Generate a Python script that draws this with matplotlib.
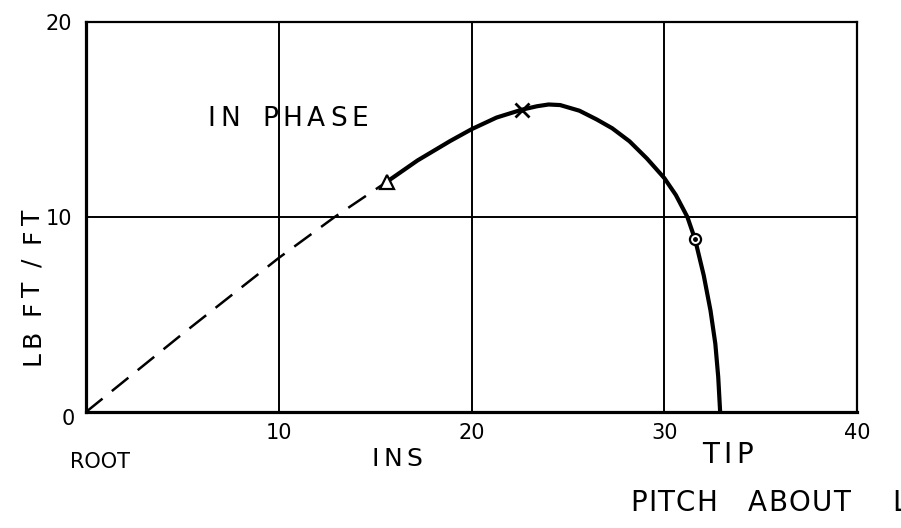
import matplotlib
matplotlib.use("Agg")
import matplotlib.pyplot as plt
from matplotlib.font_manager import FontProperties, findfont, get_font

# Pitching moment per unit span along the blade
dash_x = [0.0, 5.0, 10.0, 12.9, 15.6]
dash_y = [0.0, 4.0, 7.9, 10.0, 11.8]

curve_x = [15.6, 17.2, 18.9, 20.0, 21.3, 22.6, 23.4, 24.0, 24.6, 25.6, 26.5,
           27.3, 28.2, 29.1, 30.0, 30.6, 31.2, 31.6, 32.05, 32.4, 32.65,
           32.8, 32.9]
curve_y = [11.8, 12.9, 13.9, 14.5, 15.1, 15.5, 15.68, 15.77, 15.74, 15.45,
           15.0, 14.55, 13.88, 13.0, 12.0, 11.13, 10.0, 8.85, 7.0, 5.2, 3.5,
           1.8, 0.0]

tri_pt = (15.6, 11.8)
cross_pt = (22.6, 15.5)
circ_pt = (31.6, 8.85)

x_ticks = [10, 20, 30, 40]
y_ticks = [10, 20]

W, H, DPI = 901, 528, 100
fig = plt.figure(figsize=(W / DPI, H / DPI), dpi=DPI)
ax = fig.add_axes([86 / W, 1 - 412 / H, (857 - 86) / W, (412 - 22) / H])

ax.set_xlim(0, 40)
ax.set_ylim(0, 20)

# grid
for gx in [10, 20, 30]:
    ax.axvline(gx, color="black", lw=1.4, zorder=1)
ax.axhline(10, color="black", lw=1.4, zorder=1)

# frame
for side in ["left", "bottom"]:
    ax.spines[side].set_linewidth(2.3)
for side in ["top", "right"]:
    ax.spines[side].set_linewidth(1.6)

ax.plot(dash_x, dash_y, color="black", lw=1.8, ls=(0, (8.5, 4.8)),
        solid_capstyle="butt", zorder=3)
ax.plot(curve_x, curve_y, color="black", lw=3.0, solid_capstyle="butt",
        solid_joinstyle="round", zorder=3)

ax.plot(*tri_pt, marker="^", ms=10, mfc="white", mec="black", mew=1.6, zorder=4)
ax.plot(*cross_pt, marker="x", ms=10, mec="black", mew=2.0, zorder=4)
ax.plot(*circ_pt, marker="o", ms=8, mfc="white", mec="black", mew=1.6, zorder=4)
ax.plot(*circ_pt, marker="o", ms=2.5, mfc="black", mec="black", zorder=5)

ax.set_xticks(x_ticks)
ax.set_xticklabels([str(t) for t in x_ticks], fontsize=15)
ax.set_yticks(y_ticks)
ax.set_yticklabels([str(t) for t in y_ticks], fontsize=15)
ax.tick_params(axis="x", length=0, pad=8)
ax.tick_params(axis="y", length=0, pad=10)


def lettered(s, x0, y0, length, size, vertical=False):
    """Hand-lettering style: spread glyphs evenly over a given run length (px)."""
    prop = FontProperties(family="DejaVu Sans", size=size)
    font = get_font(findfont(prop))
    font.set_size(size, DPI)
    adv = [font.load_char(ord(c)).linearHoriAdvance / 65536 for c in s]
    extra = (length - sum(adv)) / max(len(s) - 1, 1)
    pos = 0.0
    for c, a in zip(s, adv):
        if vertical:
            x, y, rot = x0, y0 - pos, 90
        else:
            x, y, rot = x0 + pos, y0, 0
        fig.text(x / W, 1 - y / H, c, fontsize=size, rotation=rot,
                 rotation_mode="anchor", ha="left", va="baseline",
                 family="DejaVu Sans")
        pos += a + extra


lettered("IN", 207, 126, 33, 19)
lettered("PHASE", 262, 126, 106, 19)
lettered("LB FT / FT", 40, 365, 155, 18, vertical=True)
fig.text(70 / W, 1 - 468 / H, "ROOT", fontsize=15, ha="left", va="baseline")
lettered("INS", 372, 466, 50, 18)
lettered("TIP", 702, 463, 51, 20)
lettered("PITCH", 630, 511, 87, 20)
lettered("ABOUT", 748, 511, 102, 20)
fig.text(892 / W, 1 - 511 / H, "L", fontsize=20, ha="left", va="baseline")
fig.text(68 / W, 1 - 419 / H, "0", fontsize=15, ha="center", va="center")

fig.savefig("out.png", dpi=DPI)
